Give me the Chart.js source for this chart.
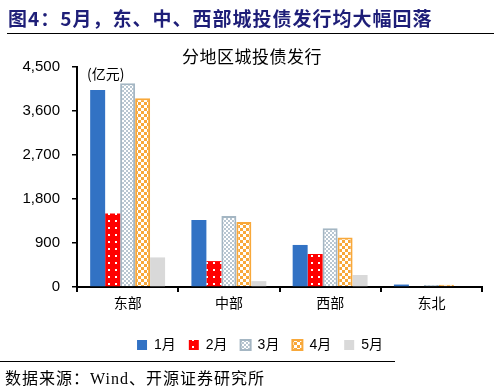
<!DOCTYPE html>
<html><head><meta charset="utf-8">
<script src="https://cdn.jsdelivr.net/npm/chart.js@4/dist/chart.umd.min.js"></script>
<style>
html,body{margin:0;padding:0;background:#fff;}
#wrap{position:relative;width:504px;height:388px;overflow:hidden;}
#c{position:absolute;left:0;top:0;}
.t{position:absolute;white-space:nowrap;}
</style></head><body>
<div id="wrap">
<canvas id="c" width="504" height="388"></canvas>
<div class="t" style="left:8px;top:4px;font:bold 19px 'Noto Sans CJK SC';color:#1e1e78;letter-spacing:1px;">图4：5月，东、中、西部城投债发行均大幅回落</div>
<div style="position:absolute;left:7px;top:33px;width:487px;height:1px;background:#000;"></div>
<div class="t" style="left:0;width:504px;text-align:center;top:43px;font:17px 'Noto Sans CJK SC';color:#000;letter-spacing:0.5px;">分地区城投债发行</div>
<div class="t" style="left:87px;top:63px;font:14px 'Noto Sans CJK SC';color:#000;">(亿元)</div>
<div style="position:absolute;left:0;top:361px;width:395px;height:1px;background:#000;"></div>
<div class="t" style="left:5px;top:365px;font:16px 'Liberation Serif','Noto Sans CJK SC';color:#000;letter-spacing:1px;">数据来源：Wind、开源证券研究所</div>
</div>
<script>
const categories = ['东部','中部','西部','东北'];
const seriesNames = ['1月','2月','3月','4月','5月'];
const jan = [4030, 1370, 860, 50];
const feb = [1505, 530, 675, 0];
const mar = [4170, 1450, 1200, 40];
const apr = [3860, 1330, 1015, 45];
const may = [605, 120, 245, 0];
const yTicks = [0, 900, 1800, 2700, 3600, 4500];

function makePattern(w, h, draw){
  const cv = document.createElement('canvas'); cv.width = w; cv.height = h;
  const x = cv.getContext('2d'); draw(x);
  return document.getElementById('c').getContext('2d').createPattern(cv, 'repeat');
}
const redDots = makePattern(7, 7, x => {
  x.fillStyle = '#ff0000'; x.fillRect(0,0,7,7);
  x.fillStyle = '#ffffff'; x.fillRect(3,3,2,2);
});
const grayCheck = makePattern(4, 4, x => {
  x.fillStyle = '#ffffff'; x.fillRect(0,0,4,4);
  x.fillStyle = '#b8c6d1'; x.fillRect(0,0,2,2); x.fillRect(2,2,2,2);
});
const orangeCheck = makePattern(6, 6, x => {
  x.fillStyle = '#ffffff'; x.fillRect(0,0,6,6);
  x.fillStyle = '#f8a83a'; x.fillRect(0,0,3,3); x.fillRect(3,3,3,3);
});

const legendShift = {
  id: 'legendShift',
  afterLayout(chart) {
    if (chart.legend) { chart.legend.left += 19; chart.legend.right += 19; }
  }
};

const numFont = "'Liberation Sans', Arial, 'Noto Sans CJK SC'";
new Chart(document.getElementById('c'), {
  type: 'bar',
  data: {
    labels: categories,
    datasets: [
      {label: seriesNames[0], data: jan, backgroundColor: '#3272c4', borderWidth: 0},
      {label: seriesNames[1], data: feb, backgroundColor: redDots, borderWidth: 0},
      {label: seriesNames[2], data: mar, backgroundColor: grayCheck, borderColor: '#a4b6c3', borderWidth: 2},
      {label: seriesNames[3], data: apr, backgroundColor: orangeCheck, borderColor: '#f8a83a', borderWidth: 2},
      {label: seriesNames[4], data: may, backgroundColor: '#d9d9d9', borderWidth: 0}
    ]
  },
  plugins: [legendShift],
  options: {
    responsive: false,
    animation: false,
    devicePixelRatio: 1,
    layout: {padding: {left: 0, right: 22, top: 67, bottom: 26}},
    datasets: {bar: {categoryPercentage: 0.74, barPercentage: 1.0}},
    scales: {
      x: {
        grid: {drawOnChartArea: false, drawTicks: true, tickLength: 5, color: '#000', lineWidth: 2, offset: true},
        border: {display: true, color: '#000', width: 2},
        ticks: {color: '#000', font: {family: "'Noto Sans CJK SC'", size: 14}, padding: 2},
        afterFit: s => { s.height = 38; }
      },
      y: {
        min: 0, max: 4500,
        afterBuildTicks: s => { s.ticks = yTicks.map(v => ({value: v})); },
        grid: {drawOnChartArea: false, drawTicks: true, tickLength: 5, color: '#000', lineWidth: 1.5},
        border: {display: true, color: '#000', width: 2},
        ticks: {color: '#000', font: {family: numFont, size: 15}, padding: 12,
          callback: v => Number(v).toLocaleString('en-US')},
        afterFit: s => { s.width = 77; }
      }
    },
    plugins: {
      legend: {
        position: 'bottom',
        labels: {boxWidth: 10, boxHeight: 10, padding: 13, color: '#000',
          font: {family: numFont, size: 14}}
      },
      tooltip: {enabled: false}
    }
  }
});
</script>
</body></html>
